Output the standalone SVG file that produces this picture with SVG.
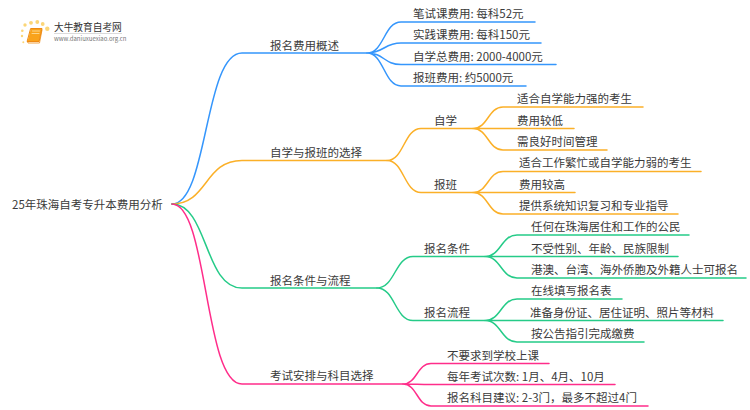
<svg xmlns="http://www.w3.org/2000/svg" width="750" height="410" viewBox="0 0 750 410">
<style>
text{font-family:"Noto Sans CJK SC","Noto Sans",sans-serif;font-size:11.5px;fill:#3a3a3a}
path{fill:none;stroke-width:1.5;stroke-linecap:round}
.b{stroke:#3596fc}.o{stroke:#fbb028}.g{stroke:#25cb88}.p{stroke:#ff2d8a}
</style>
<rect width="750" height="410" fill="#fff"/>
<g id="logo">
<g fill="#fbd678"><circle cx="25" cy="25" r="1.700"/><circle cx="31" cy="22.800" r="1.900"/><circle cx="37.300" cy="22" r="1.900"/><circle cx="42.700" cy="24" r="1.900"/><circle cx="47.300" cy="28.700" r="2.200"/><circle cx="22.300" cy="30.700" r="1.300"/><circle cx="22" cy="36" r="1.200"/><circle cx="23.300" cy="42.300" r="1"/></g>
<path d="M31 28.500H42L39 41.500H27.500Z" style="fill:#f9a31c;stroke:#ee8a12;stroke-width:1"/>
<path d="M27.500 41.500L28 43H39.500L42 30" style="stroke:#ee8a12;stroke-width:.8"/>
<path d="M32.500 31H39.500M32 33.500H39" style="stroke:#fde3a8;stroke-width:.8"/>
<text x="54" y="30.500" style="font-size:9.700px;fill:#333">大牛教育自考网</text>
<rect x="54" y="33" width="68" height="0.700" fill="#ccc"/>
<text x="54" y="41" style="font-size:6px;fill:#777">www.daniuxuexiao.org.cn</text>
</g>
<g id="connectors">
<path class="b" d="M172 204C208 204 204 53 242 53H367"/>
<path class="o" d="M172 204C208 204 204 160.500 242 160.500H387"/>
<path class="g" d="M172 204C208 204 204 288 242 288H377"/>
<path class="p" d="M172 204C208 204 204 384 242 384H403"/>
<path class="b" d="M367 53C384 53 384 22 401 22H535M367 53C384 53 384 43 401 43H541M367 53C384 53 384 64.500 401 64.500H556M367 53C384 53 384 86 401 86H526"/>
<path class="o" d="M387 160.500C404 160.500 404 128.500 421 128.500H473M387 160.500C404 160.500 404 192.500 421 192.500H473"/>
<path class="o" d="M473 128.500C488 128.500 488 107 503 107H643M473 128.500C488 128.500 488 128.500 503 128.500H574M473 128.500C488 128.500 488 150 503 150H607"/>
<path class="o" d="M473 192.500C488 192.500 488 171.500 503 171.500H701M473 192.500C488 192.500 488 192.500 503 192.500H575M473 192.500C488 192.500 488 214 503 214H678"/>
<path class="g" d="M377 288C395 288 395 256.500 413 256.500H485M377 288C395 288 395 320.500 413 320.500H485"/>
<path class="g" d="M485 256.500C501 256.500 501 235 517 235H689M485 256.500C501 256.500 501 256.500 517 256.500H678M485 256.500C501 256.500 501 278 517 278H746"/>
<path class="g" d="M485 320.500C501 320.500 501 299 517 299H622M485 320.500C501 320.500 501 320.500 517 320.500H723M485 320.500C501 320.500 501 342 517 342H644"/>
<path class="p" d="M403 384C417 384 417 363.500 431 363.500H549M403 384C417 384 417 384.500 431 384.500H615M403 384C417 384 417 406 431 406H648"/>
</g>
<g id="root"><text x="12" y="208.500">25年珠海自考专升本费用分析</text></g>
<g id="n1"><text x="270" y="50">报名费用概述</text></g>
<g id="n1a"><text x="413" y="18">笔试课费用: 每科52元</text></g>
<g id="n1b"><text x="413" y="39">实践课费用: 每科150元</text></g>
<g id="n1c"><text x="413" y="60.500">自学总费用: 2000-4000元</text></g>
<g id="n1d"><text x="413" y="82">报班费用: 约5000元</text></g>
<g id="n2"><text x="270" y="157">自学与报班的选择</text></g>
<g id="n21"><text x="434" y="124.500">自学</text></g>
<g id="n21a"><text x="517" y="103">适合自学能力强的考生</text></g>
<g id="n21b"><text x="517" y="124.500">费用较低</text></g>
<g id="n21c"><text x="517" y="146">需良好时间管理</text></g>
<g id="n22"><text x="434" y="188.500">报班</text></g>
<g id="n22a"><text x="519" y="167">适合工作繁忙或自学能力弱的考生</text></g>
<g id="n22b"><text x="519" y="188.500">费用较高</text></g>
<g id="n22c"><text x="519" y="210">提供系统知识复习和专业指导</text></g>
<g id="n3"><text x="270" y="284.500">报名条件与流程</text></g>
<g id="n31"><text x="424" y="252.500">报名条件</text></g>
<g id="n31a"><text x="531" y="231">任何在珠海居住和工作的公民</text></g>
<g id="n31b"><text x="531" y="252.500">不受性别、年龄、民族限制</text></g>
<g id="n31c"><text x="531" y="274">港澳、台湾、海外侨胞及外籍人士可报名</text></g>
<g id="n32"><text x="424" y="316.500">报名流程</text></g>
<g id="n32a"><text x="531" y="295">在线填写报名表</text></g>
<g id="n32b"><text x="530" y="316.500">准备身份证、居住证明、照片等材料</text></g>
<g id="n32c"><text x="531" y="338">按公告指引完成缴费</text></g>
<g id="n4"><text x="270" y="380">考试安排与科目选择</text></g>
<g id="n4a"><text x="447" y="359.500">不要求到学校上课</text></g>
<g id="n4b"><text x="447" y="380.500">每年考试次数: 1月、4月、10月</text></g>
<g id="n4c"><text x="447" y="402">报名科目建议: 2-3门，最多不超过4门</text></g>
</svg>
